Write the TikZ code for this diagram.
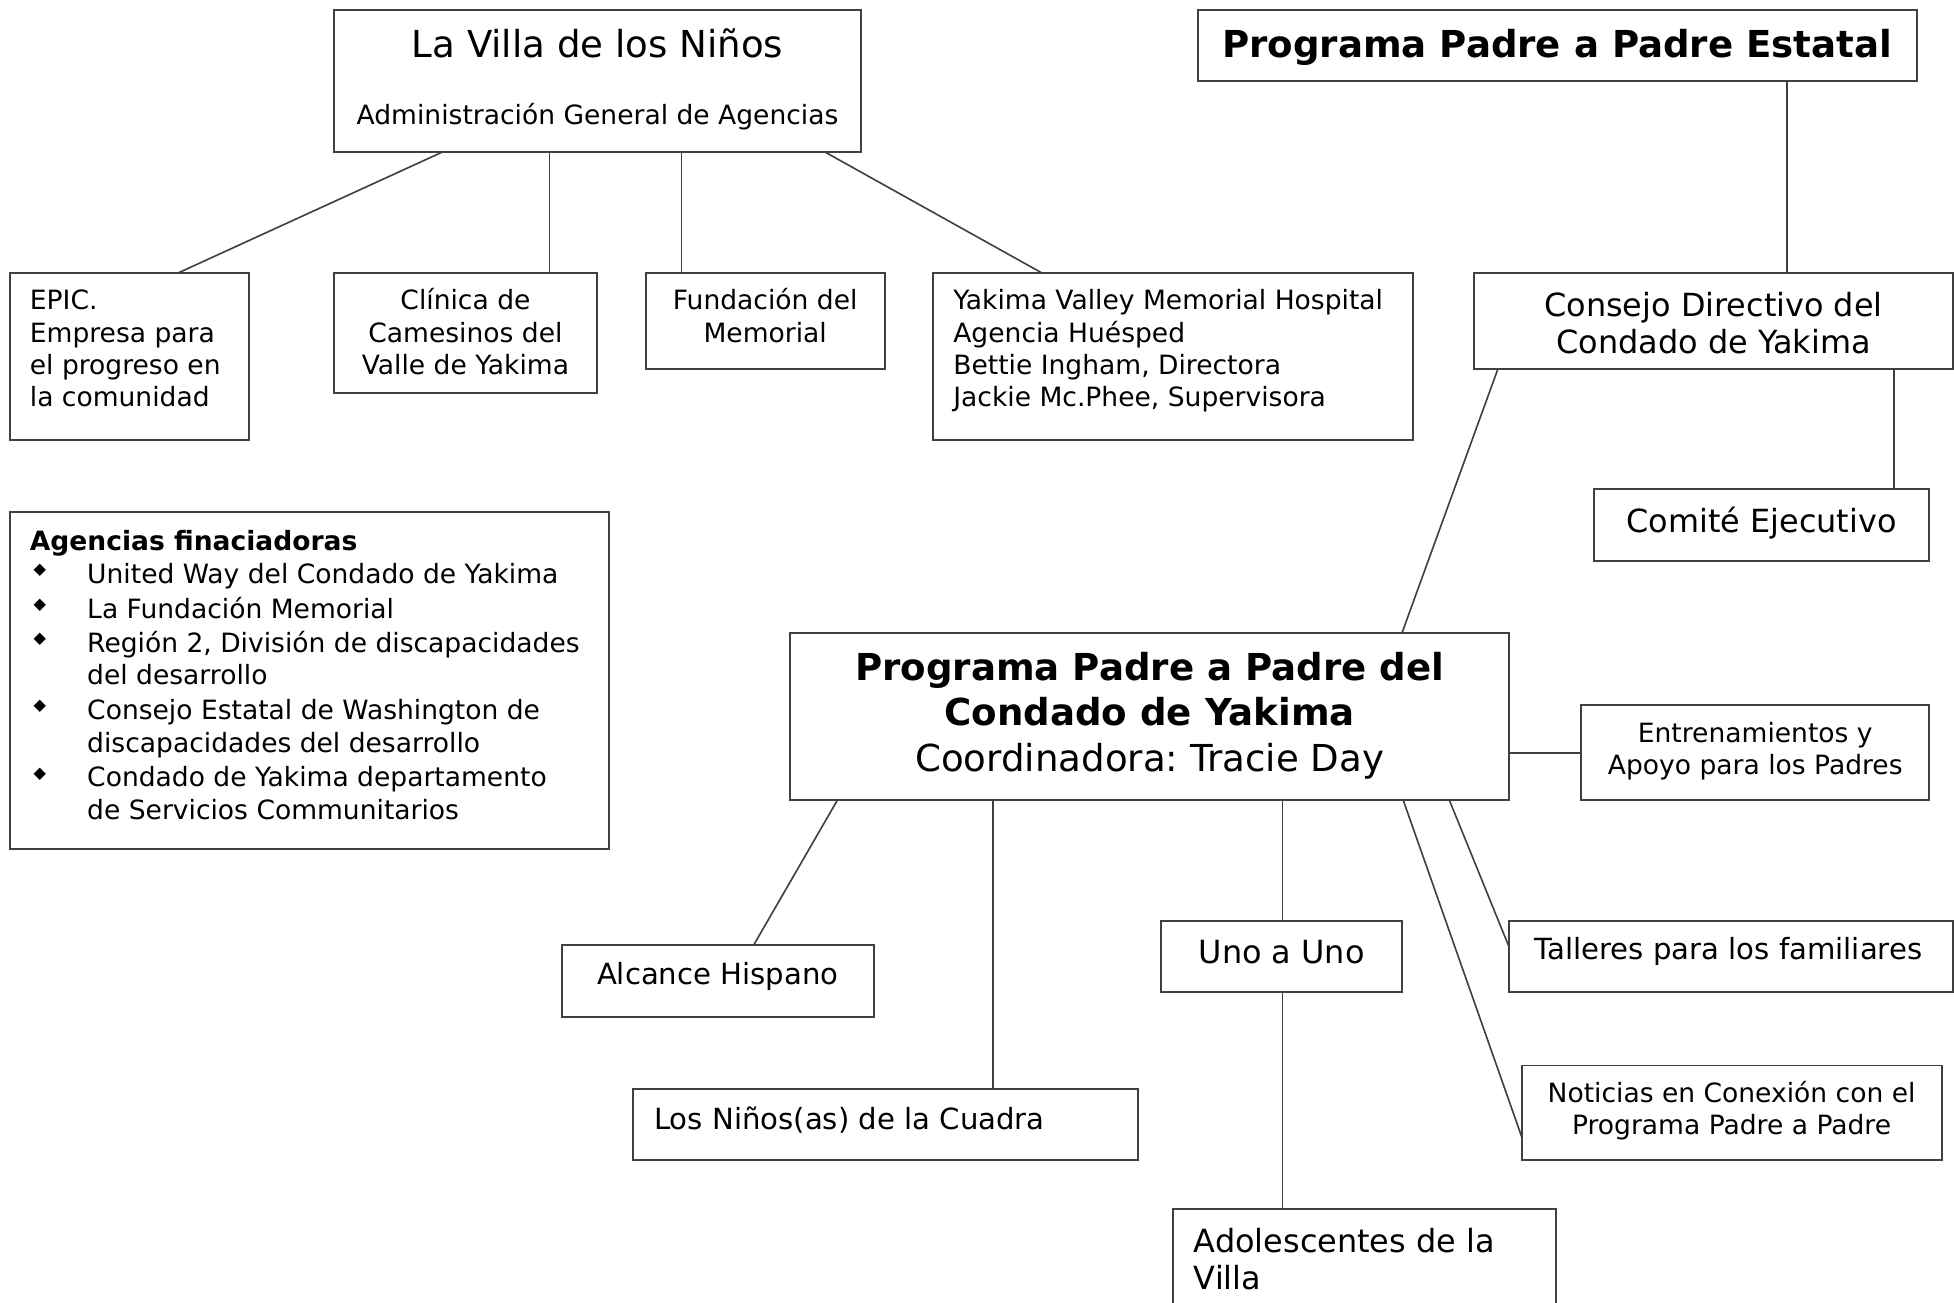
\documentclass[tikz,border=0pt]{standalone}
\usepackage{fontspec}
\setmainfont{DejaVu Sans}
\frenchspacing
\newcommand\szbody{\fontsize{21.3}{25.9}\selectfont}
\newcommand\szeleven{\fontsize{23.4}{28.4}\selectfont}
\newcommand\sztwelve{\fontsize{25.6}{31}\selectfont}
\newcommand\szfourteen{\fontsize{29.8}{36.2}\selectfont}
\tikzset{
  box/.style={draw=black!75, line width=1.6pt, inner sep=0pt, outer sep=0pt, anchor=north west, fill=white},
  link/.style={draw=black!75, line width=1.3pt},
  txt/.style={inner sep=0pt, outer sep=0pt, anchor=base, font=\szbody},
  ltxt/.style={txt, anchor=base west},
  bul/.style={inner sep=0pt, anchor=center, font=\fontsize{13}{13}\selectfont},
}
\newcommand\boxat[5]{\node[box, minimum width=#4pt-#2pt, minimum height=#5pt-#3pt] (#1) at (#2,#3) {};}
\begin{document}
\begin{tikzpicture}[x=1pt,y=-1pt]
\useasboundingbox (0,0) rectangle (1568,1045);
% boxes
\boxat{villa}{268}{8}{691}{122}
\boxat{estatal}{961}{8}{1538}{65}
\boxat{epic}{8}{219}{200}{353}
\boxat{clinica}{268}{219}{479}{315}
\boxat{fundacion}{518}{219}{710}{296}
\boxat{yvmh}{749}{219}{1134}{353}
\boxat{consejo}{1183}{219}{1567}{296}
\boxat{comite}{1279}{392}{1548}{450}
\boxat{agencias}{8}{411}{489}{681}
\boxat{main}{634}{508}{1211}{642}
\boxat{entren}{1269}{566}{1548}{642}
\boxat{alcance}{451}{758}{701}{816}
\boxat{uno}{932}{739}{1125}{796}
\boxat{talleres}{1211}{739}{1567}{796}
\boxat{ninos}{508}{874}{913}{931}
\boxat{noticias}{1221}{855}{1558}{931}
\boxat{adoles}{941}{970}{1249}{1050}
% connectors
\draw[link] ([xshift=87pt]villa.south west) -- ([xshift=135pt]epic.north west);
\draw[link] ([xshift=173pt]villa.south west) -- ([xshift=173pt]clinica.north west);
\draw[link] ([xshift=279pt]villa.south west) -- ([xshift=29pt]fundacion.north west);
\draw[link] ([xshift=394pt]villa.south west) -- ([xshift=87pt]yvmh.north west);
\draw[link] ([xshift=473pt]estatal.south west) -- ([xshift=251pt]consejo.north west);
\draw[link] ([xshift=19pt]consejo.south west) -- ([xshift=491pt]main.north west);
\draw[link] ([xshift=337pt]consejo.south west) -- ([xshift=241pt]comite.north west);
\draw[link] ([yshift=-96pt]main.north east) -- ([yshift=-38pt]entren.north west);
\draw[link] ([xshift=38pt]main.south west) -- ([xshift=154pt]alcance.north west);
\draw[link] ([xshift=163pt]main.south west) -- ([xshift=289pt]ninos.north west);
\draw[link] ([xshift=395pt]main.south west) -- ([xshift=97pt]uno.north west);
\draw[link] ([xshift=97pt]uno.south west) -- ([xshift=88pt]adoles.north west);
\draw[link] ([xshift=529pt]main.south west) -- ([yshift=-21pt]talleres.north west);
\draw[link] ([xshift=492pt]main.south west) -- ([yshift=-57pt]noticias.north west);
% texts
\node[txt, font=\szfourteen] (villa-a) at (479.5,46.3) {La Villa de los Niños};
\node[txt] (villa-b) at (479.5,99.5) {Administración General de Agencias};
\node[txt, font=\szfourteen\bfseries] (estatal-a) at (1249.5,46.3) {Programa Padre a Padre Estatal};
\node[ltxt] (epic-a) at (24,248.5) {EPIC.};
\node[ltxt] (epic-b) at (24,274.5) {Empresa para};
\node[ltxt] (epic-c) at (24,300.5) {el progreso en};
\node[ltxt] (epic-d) at (24,326.5) {la comunidad};
\node[txt] (clinica-a) at (373.5,248.5) {Clínica de};
\node[txt] (clinica-b) at (373.5,274.5) {Camesinos del};
\node[txt] (clinica-c) at (373.5,300.5) {Valle de Yakima};
\node[txt] (fundacion-a) at (614,248.5) {Fundación del};
\node[txt] (fundacion-b) at (614,274.5) {Memorial};
\node[ltxt] (yvmh-a) at (765,248.5) {Yakima Valley Memorial Hospital};
\node[ltxt] (yvmh-b) at (765,274.5) {Agencia Huésped};
\node[ltxt] (yvmh-c) at (765,300.5) {Bettie Ingham, Directora};
\node[ltxt] (yvmh-d) at (765,326.5) {Jackie Mc.Phee, Supervisora};
\node[txt, font=\sztwelve] (consejo-a) at (1375,254) {Consejo Directivo del};
\node[txt, font=\sztwelve] (consejo-b) at (1375,284) {Condado de Yakima};
\node[txt, font=\sztwelve] (comite-a) at (1413.5,427) {Comité Ejecutivo};
\node[ltxt, font=\szbody\bfseries] (agencias-t) at (24,441.5) {Agencias finaciadoras};
\node[bul] (b1) at (32,458) {◆};
\node[ltxt] (ag1) at (70,468.5) {United Way del Condado de Yakima};
\node[bul] (b2) at (32,486) {◆};
\node[ltxt] (ag2) at (70,496.5) {La Fundación Memorial};
\node[bul] (b3) at (32,513) {◆};
\node[ltxt] (ag3) at (70,523.5) {Región 2, División de discapacidades};
\node[ltxt] (ag3b) at (70,549.5) {del desarrollo};
\node[bul] (b4) at (32,567) {◆};
\node[ltxt] (ag4) at (70,577.5) {Consejo Estatal de Washington de};
\node[ltxt] (ag4b) at (70,603.5) {discapacidades del desarrollo};
\node[bul] (b5) at (32,621) {◆};
\node[ltxt] (ag5) at (70,631.5) {Condado de Yakima departamento};
\node[ltxt] (ag5b) at (70,657.5) {de Servicios Communitarios};
\node[txt, font=\szfourteen\bfseries] (main-a) at (922.5,546.3) {Programa Padre a Padre del};
\node[txt, font=\szfourteen\bfseries] (main-b) at (922.5,582.3) {Condado de Yakima};
\node[txt, font=\szfourteen] (main-c) at (922.5,619.3) {Coordinadora: Tracie Day};
\node[txt] (entren-a) at (1408.5,595.5) {Entrenamientos y};
\node[txt] (entren-b) at (1408.5,621.5) {Apoyo para los Padres};
\node[txt, font=\szeleven] (alcance-a) at (576,790.2) {Alcance Hispano};
\node[txt, font=\sztwelve] (uno-a) at (1028.5,773) {Uno a Uno};
\node[txt, font=\szeleven] (talleres-a) at (1387,770.2) {Talleres para los familiares};
\node[ltxt, font=\szeleven] (ninos-a) at (525,906.2) {Los Niños(as) de la Cuadra};
\node[txt] (noticias-a) at (1389.5,884.5) {Noticias en Conexión con el};
\node[txt] (noticias-b) at (1389.5,910.5) {Programa Padre a Padre};
\node[ltxt, font=\sztwelve] (adoles-a) at (958,1005) {Adolescentes de la};
\node[ltxt, font=\sztwelve] (adoles-b) at (958,1035) {Villa};
\end{tikzpicture}
\end{document}
